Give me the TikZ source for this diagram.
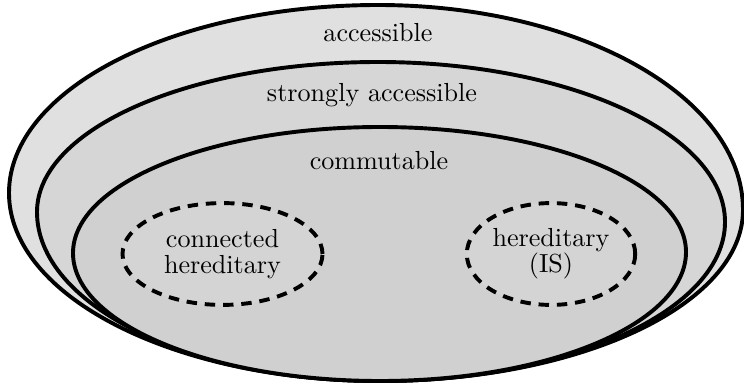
\documentclass[tikz,border=0pt]{standalone}
\usepackage{tikz}
\usetikzlibrary{shapes.geometric,positioning}
\definecolor{accfill}{HTML}{E0E0E0}
\definecolor{strongfill}{HTML}{D6D6D6}
\definecolor{commfill}{HTML}{D0D0D0}
\tikzset{region/.style={draw=black, line width=1.5pt}}
\tikzset{subclass/.style={ellipse, draw=black, line width=1.5pt, dash pattern=on 4pt off 3pt, fill=black!17, align=center, inner sep=0pt, minimum height=39pt}}
\tikzset{classname/.style={anchor=base}}

\begin{document}
\begin{tikzpicture}[x=0.383pt, y=0.383pt]
        \useasboundingbox (0,0) rectangle (744,383);
        % accessible
        \draw[region, fill=accfill] (378,378) arc[start angle=90, end angle=180, x radius=369, y radius=188]
            arc[start angle=180, end angle=270, x radius=371, y radius=188]
            arc[start angle=270, end angle=360, x radius=363, y radius=171]
            arc[start angle=0, end angle=90, x radius=365, y radius=205] -- cycle;
        % strongly accessible
        \draw[region, fill=strongfill] (378,321) arc[start angle=90, end angle=180, x radius=341, y radius=150]
            arc[start angle=180, end angle=270, x radius=343, y radius=169]
            arc[start angle=270, end angle=360, x radius=345, y radius=159]
            arc[start angle=0, end angle=90, x radius=347, y radius=160] -- cycle;
        % commutable
        \draw[region, fill=commfill] (380,256) arc[start angle=90, end angle=180, x radius=307, y radius=126]
            arc[start angle=180, end angle=270, x radius=307, y radius=128]
            arc[start angle=270, end angle=360, x radius=306, y radius=129]
            arc[start angle=0, end angle=90, x radius=306, y radius=125] -- cycle;
        \node[classname] (acc) at (378,341) {accessible};
        \node[classname] (sacc) at (372,281) {strongly accessible};
        \node[classname] (comm) at (379,214) {commutable};
        \node[subclass, minimum width=76.6pt] (conher) at (222.5,129) {connected\\[-2pt]hereditary};
        \node[subclass, minimum width=64.5pt] (herIS) at (551,129) {hereditary\\[-2pt](IS)};
\end{tikzpicture}
\end{document}
